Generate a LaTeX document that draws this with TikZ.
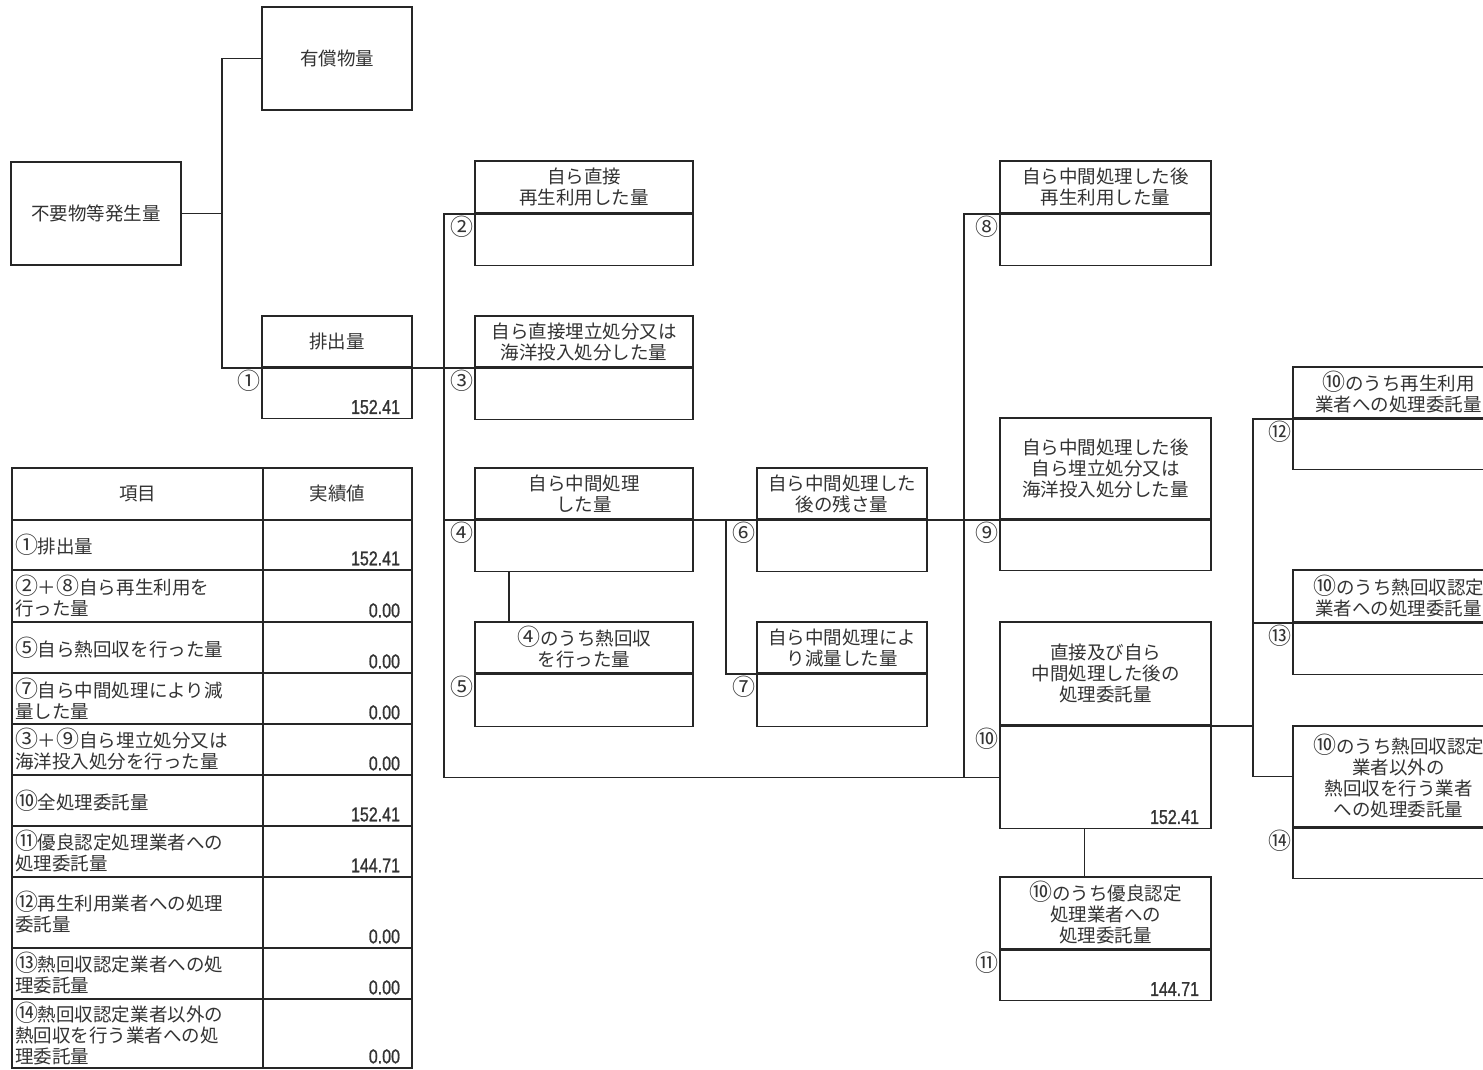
\documentclass[tikz,border=0pt]{standalone}
\usepackage{fontspec}
\newfontfamily\jpf{Noto Sans CJK JP}
\newfontfamily\numf[FakeStretch=0.8,FakeBold=1]{Liberation Sans}
\newcommand\ci[1]{{\fontsize{23}{21}\selectfont #1}}
\begin{document}
\begin{tikzpicture}[x=1pt,y=-1pt,line width=1.6pt,draw=black!85,text=black!80,
  hd/.style={draw,align=center,inner sep=0pt,font={\jpf\fontsize{18.5}{21}\selectfont}},
  vl/.style={draw,inner sep=0pt,anchor=north},
  no/.style={inner sep=0pt,font={\jpf\fontsize{23}{23}\selectfont},xshift=-12.5pt,yshift=-13pt},
  nm/.style={inner sep=0pt,anchor=base east,font={\numf\fontsize{20}{20}\selectfont},xshift=-12pt,yshift=5.5pt},
  cell/.style={draw,inner sep=0pt,minimum width=149,font={\jpf\fontsize{18.5}{21}\selectfont}},
  item/.style={draw,inner sep=3pt,text width=245pt,align=left,font={\jpf\fontsize{18.5}{21}\selectfont}}]
\clip (0,0) rectangle (1483,1070);
\fill[white] (0,0) rectangle (1483,1070);

\node[hd, minimum width=170, minimum height=103] (a) at (96,213.5) {不要物等発生量};
\node[hd, minimum width=150, minimum height=103] (b) at (337,58.5) {有償物量};
\node[hd, minimum width=150, minimum height=51] (c) at (337,341.5) {排出量};
\node[vl, minimum width=150, minimum height=50] (cv) at (c.south) {};
\node[no] at (cv.north west) {①};
\node[nm] at (cv.south east) {152.41};

\node[hd, minimum width=218, minimum height=52] (d) at (584,187) {自ら直接\\再生利用した量};
\node[vl, minimum width=218, minimum height=51] (dv) at (d.south) {};
\node[no] at (dv.north west) {②};
\node[hd, minimum width=218, minimum height=51] (e) at (584,341.5) {自ら直接埋立処分又は\\海洋投入処分した量};
\node[vl, minimum width=218, minimum height=51] (ev) at (e.south) {};
\node[no] at (ev.north west) {③};
\node[hd, minimum width=218, minimum height=51] (f) at (584,493.5) {自ら中間処理\\した量};
\node[vl, minimum width=218, minimum height=51] (fv) at (f.south) {};
\node[no] at (fv.north west) {④};
\node[hd, minimum width=218, minimum height=51] (g) at (584,647.5) {\ci{④}のうち熱回収\\を行った量};
\node[vl, minimum width=218, minimum height=52] (gv) at (g.south) {};
\node[no] at (gv.north west) {⑤};

\node[hd, minimum width=170, minimum height=51] (h) at (842,493.5) {自ら中間処理した\\後の残さ量};
\node[vl, minimum width=170, minimum height=51] (hv) at (h.south) {};
\node[no] at (hv.north west) {⑥};
\node[hd, minimum width=170, minimum height=51] (i) at (842,647.5) {自ら中間処理によ\\り減量した量};
\node[vl, minimum width=170, minimum height=52] (iv) at (i.south) {};
\node[no] at (iv.north west) {⑦};

\node[hd, minimum width=211, minimum height=52] (j) at (1105.5,187) {自ら中間処理した後\\再生利用した量};
\node[vl, minimum width=211, minimum height=51] (jv) at (j.south) {};
\node[no] at (jv.north west) {⑧};
\node[hd, minimum width=211, minimum height=101] (k) at (1105.5,468.5) {自ら中間処理した後\\自ら埋立処分又は\\海洋投入処分した量};
\node[vl, minimum width=211, minimum height=50] (kv) at (k.south) {};
\node[no] at (kv.north west) {⑨};
\node[hd, minimum width=211, minimum height=103] (l) at (1105.5,673.5) {直接及び自ら\\中間処理した後の\\処理委託量};
\node[vl, minimum width=211, minimum height=102] (lv) at (l.south) {};
\node[no] at (lv.north west) {⑩};
\node[nm] at (lv.south east) {152.41};
\node[hd, minimum width=211, minimum height=72] (m) at (1105.5,913) {\ci{⑩}のうち優良認定\\処理業者への\\処理委託量};
\node[vl, minimum width=211, minimum height=50] (mv) at (m.south) {};
\node[no] at (mv.north west) {⑪};
\node[nm] at (mv.south east) {144.71};

\node[hd, minimum width=211, minimum height=51] (n) at (1398.5,392.5) {\ci{⑩}のうち再生利用\\業者への処理委託量};
\node[vl, minimum width=211, minimum height=50] (nv) at (n.south) {};
\node[no] at (nv.north west) {⑫};
\node[hd, minimum width=211, minimum height=52] (o) at (1398.5,596) {\ci{⑩}のうち熱回収認定\\業者への処理委託量};
\node[vl, minimum width=211, minimum height=51] (ov) at (o.south) {};
\node[no] at (ov.north west) {⑬};
\node[hd, minimum width=211, minimum height=101] (p) at (1398.5,776.5) {\ci{⑩}のうち熱回収認定\\業者以外の\\熱回収を行う業者\\への処理委託量};
\node[vl, minimum width=211, minimum height=50] (pv) at (p.south) {};
\node[no] at (pv.north west) {⑭};

\coordinate (x1) at (222,0);
\coordinate (x2) at (444,0);
\coordinate (x3) at (726,0);
\coordinate (x4) at (964,0);
\coordinate (x5) at (1253,0);

\draw (a.east) -- (a.east -| x1);
\draw (b.west) -| (x1 |- c.south) -- (e.south west);
\draw (d.south west) -| (x2 |- lv.west) -- (lv.west);
\draw (x2 |- f.south) -- (f.south west);
\draw (f.south east) -- (k.south west);
\draw (x3 |- f.south) |- (i.south west);
\draw ([xshift=35pt]fv.south west) -- ([xshift=35pt]g.north west);
\draw (j.south west) -| (x4 |- lv.west);
\draw (l.south east) -- (l.south east -| x5);
\draw (n.south west) -| (x5 |- p.west) -- (p.west);
\draw (o.south west) -- (o.south west -| x5);
\draw ([xshift=-21pt]lv.south) -- ([xshift=-21pt]m.north);

\node[cell, minimum width=251, minimum height=52] (t0) at (137.5,494) {項目};
\node[cell, minimum height=52] (v0) at (337.5,494) {実績値};
\node[item, minimum height=50] (t1) at (137.5,545) {\ci{①}排出量};
\node[cell, minimum height=50] (v1) at (337.5,545) {};
\node[nm] at (v1.south east) {152.41};
\node[item, minimum height=52] (t2) at (137.5,596) {\ci{②}＋\ci{⑧}自ら再生利用を\\行った量};
\node[cell, minimum height=52] (v2) at (337.5,596) {};
\node[nm] at (v2.south east) {0.00};
\node[item, minimum height=51] (t3) at (137.5,647.5) {\ci{⑤}自ら熱回収を行った量};
\node[cell, minimum height=51] (v3) at (337.5,647.5) {};
\node[nm] at (v3.south east) {0.00};
\node[item, minimum height=51] (t4) at (137.5,698.5) {\ci{⑦}自ら中間処理により減\\量した量};
\node[cell, minimum height=51] (v4) at (337.5,698.5) {};
\node[nm] at (v4.south east) {0.00};
\node[item, minimum height=51] (t5) at (137.5,749.5) {\ci{③}＋\ci{⑨}自ら埋立処分又は\\海洋投入処分を行った量};
\node[cell, minimum height=51] (v5) at (337.5,749.5) {};
\node[nm] at (v5.south east) {0.00};
\node[item, minimum height=51] (t6) at (137.5,800.5) {\ci{⑩}全処理委託量};
\node[cell, minimum height=51] (v6) at (337.5,800.5) {};
\node[nm] at (v6.south east) {152.41};
\node[item, minimum height=51] (t7) at (137.5,851.5) {\ci{⑪}優良認定処理業者への\\処理委託量};
\node[cell, minimum height=51] (v7) at (337.5,851.5) {};
\node[nm] at (v7.south east) {144.71};
\node[item, minimum height=71] (t8) at (137.5,912.5) {\ci{⑫}再生利用業者への処理\\委託量};
\node[cell, minimum height=71] (v8) at (337.5,912.5) {};
\node[nm] at (v8.south east) {0.00};
\node[item, minimum height=51] (t9) at (137.5,973.5) {\ci{⑬}熱回収認定業者への処\\理委託量};
\node[cell, minimum height=51] (v9) at (337.5,973.5) {};
\node[nm] at (v9.south east) {0.00};
\node[item, minimum height=69] (t10) at (137.5,1033.5) {\ci{⑭}熱回収認定業者以外の\\熱回収を行う業者への処\\理委託量};
\node[cell, minimum height=69] (v10) at (337.5,1033.5) {};
\node[nm] at (v10.south east) {0.00};
\end{tikzpicture}
\end{document}
